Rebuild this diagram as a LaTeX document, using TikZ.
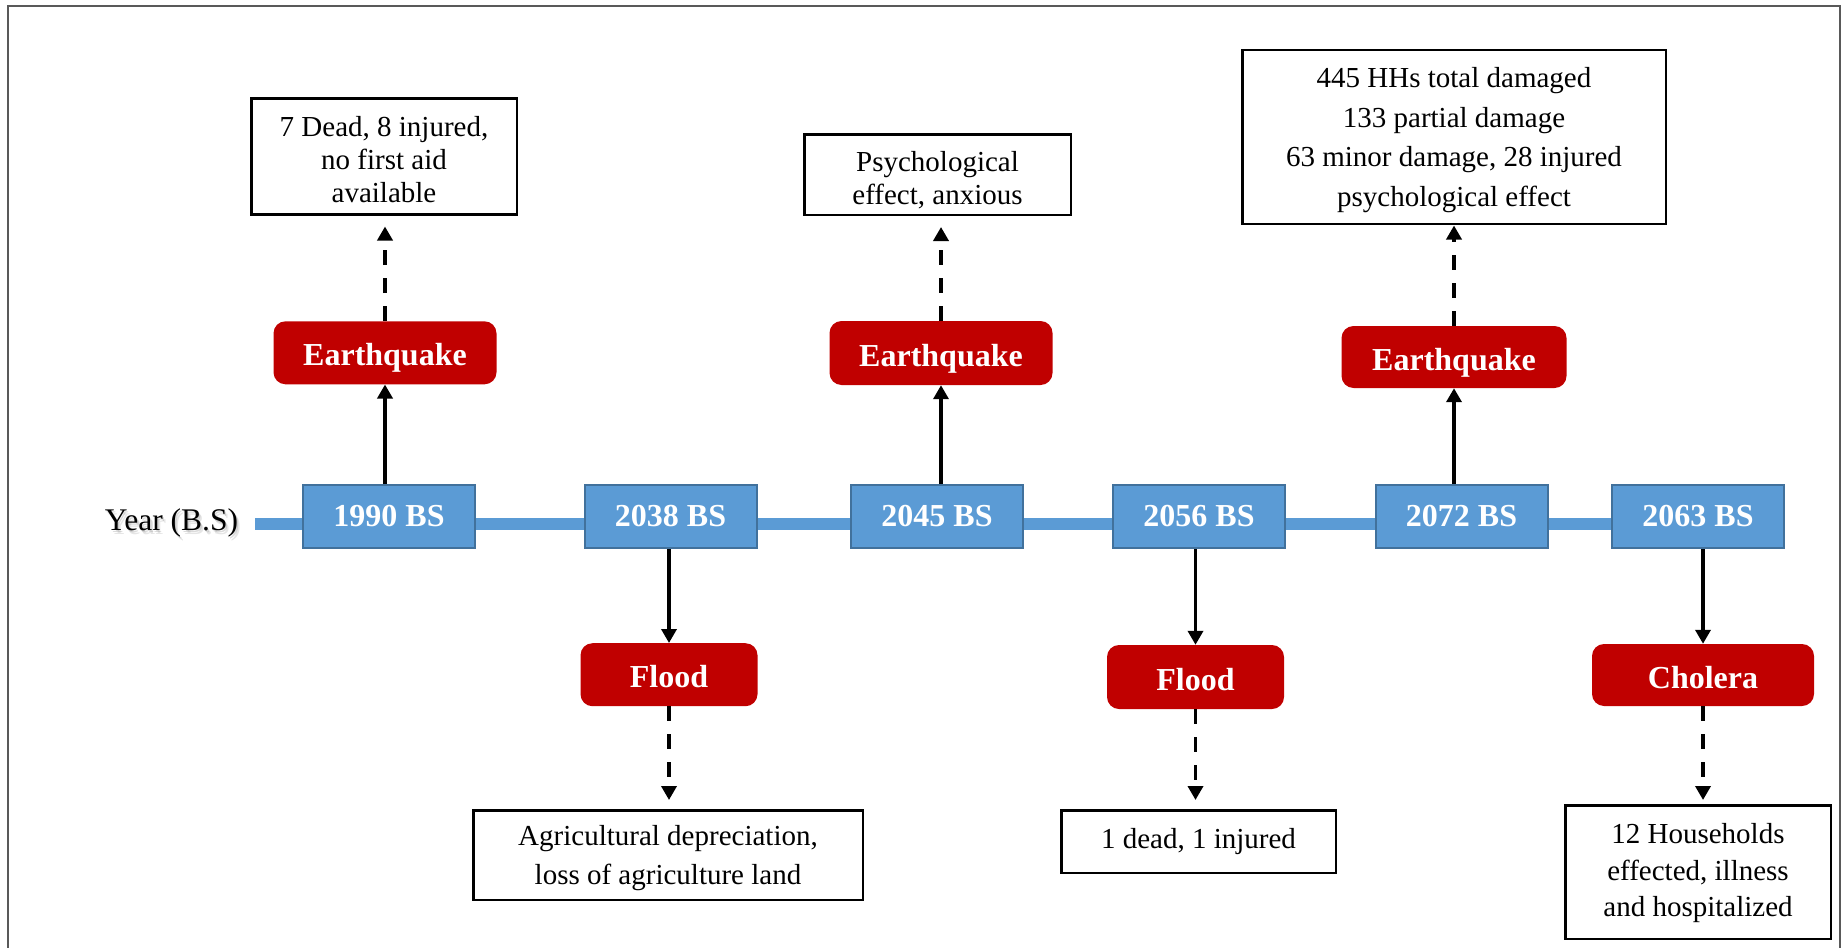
\documentclass[tikz,border=0pt]{standalone}
\usepackage{fontspec}
\setmainfont{Liberation Serif}
\usetikzlibrary{arrows.meta}

\definecolor{yrblue}{HTML}{5B9BD5}
\definecolor{yredge}{HTML}{41719C}
\definecolor{evred}{HTML}{C00000}
\definecolor{framegray}{HTML}{595959}

% invisible strut that sets the height of a first text line
\newcommand{\firstline}[1]{\rule{0pt}{#1}}

\begin{document}
\begin{tikzpicture}[x=1pt,y=-1pt,
  yearbox/.style={draw=yredge, line width=2pt, fill=yrblue, text=white,
    font=\fontsize{32}{36}\selectfont\bfseries,
    minimum width=172pt, minimum height=63pt, inner sep=0pt},
  eventbox/.style={fill=evred, rounded corners=12pt, text=white,
    font=\fontsize{32}{36}\selectfont\bfseries, inner sep=0pt,
    text height=26pt, text depth=0pt},
  effectbox/.style={draw=black, line width=2.5pt, fill=white, align=center,
    inner sep=0pt, font=\fontsize{29}{33}\selectfont},
  link/.style={line width=3.5pt, -{Triangle[width=15pt,length=14pt]}},
  effectlink/.style={link, dash pattern=on 15pt off 13pt},
]
\useasboundingbox (0,0) rectangle (1843,947);

% outer frame (its lower edge lies below the page)
\draw[framegray, line width=2pt] (8,960) -- (8,6) -- (1840,6) -- (1840,960);

% time axis
\coordinate (barstart) at (255,524);
\coordinate (barend) at (1700,524);
\draw[yrblue, line width=12pt] (barstart) -- (barend);

% axis caption with its soft shadow
\node[text=black!40, opacity=0.25, font=\fontsize{31.5}{36}\selectfont] (ylabelshadowb) at (174.5,526.5) {Year (B.S)};
\node[text=black!40, opacity=0.35, font=\fontsize{31.5}{36}\selectfont] (ylabelshadowa) at (173,525) {Year (B.S)};
\node[font=\fontsize{31.5}{36}\selectfont] (ylabel) at (171.5,523) {Year (B.S)};

% years
\node[yearbox] (y1990) at (389,516.5) {1990 BS};
\node[yearbox] (y2038) at (670.5,516.5) {2038 BS};
\node[yearbox] (y2045) at (937,516.5) {2045 BS};
\node[yearbox] (y2056) at (1199,516.5) {2056 BS};
\node[yearbox] (y2072) at (1461.5,516.5) {2072 BS};
\node[yearbox] (y2063) at (1698,516.5) {2063 BS};

% hazard events
\node[eventbox, minimum width=223pt, minimum height=63pt] (e1) at (385,352.8) {Earthquake};
\node[eventbox, minimum width=223pt, minimum height=64pt] (e2) at (941,353) {Earthquake};
\node[eventbox, minimum width=225pt, minimum height=62pt] (e3) at (1454,357) {Earthquake};
\node[eventbox, minimum width=177pt, minimum height=63pt] (f1) at (669,674.7) {Flood};
\node[eventbox, minimum width=177pt, minimum height=64pt] (f2) at (1195.5,677) {Flood};
\node[eventbox, minimum width=222pt, minimum height=62pt] (c1) at (1703,675) {Cholera};

% impacts
\node[effectbox, minimum width=265.5pt, minimum height=115.5pt] (t1) at (384,156.5)
  {\firstline{26pt}7 Dead, 8 injured,\\ no first aid\\ available};
\node[effectbox, minimum width=266.5pt, minimum height=80.5pt] (t2) at (937.5,174.5)
  {\firstline{32pt}Psychological\\ effect, anxious};
\node[effectbox, minimum width=423.5pt, minimum height=173.5pt,
  font=\fontsize{29}{39.5}\selectfont] (t3) at (1454,137)
  {\firstline{26pt}445 HHs total damaged\\ 133 partial damage\\ 63 minor damage, 28 injured\\ psychological effect};
\node[effectbox, minimum width=389.5pt, minimum height=89.5pt,
  font=\fontsize{29}{39}\selectfont] (b1) at (668,855)
  {\firstline{27pt}Agricultural depreciation,\\ loss of agriculture land};
\node[effectbox, minimum width=274.5pt, minimum height=62.5pt] (b2) at (1198.5,841.5)
  {1 dead, 1 injured};
\node[effectbox, minimum width=265.5pt, minimum height=133.5pt,
  font=\fontsize{29}{36.5}\selectfont] (b3) at (1698,872)
  {\firstline{23pt}12 Households\\ effected, illness\\ and hospitalized};

% year -> event
\draw[link] (y1990.north -| e1) -- (e1.south);
\draw[link] (y2045.north -| e2) -- (e2.south);
\draw[link] (y2072.north -| e3) -- (e3.south);
\draw[link] (y2038.south -| f1) -- (f1.north);
\draw[link] (y2056.south -| f2) -- (f2.north);
\draw[link] (y2063.south -| c1) -- (c1.north);

% event -> impact
\draw[effectlink, shorten >=11pt] (e1.north) -- (e1.north |- t1.south);
\draw[effectlink, shorten >=11pt] (e2.north) -- (e2.north |- t2.south);
\draw[effectlink, shorten >=0.5pt] (e3.north) -- (e3.north |- t3.south);
\draw[effectlink, shorten >=9pt] (f1.south) -- (f1.south |- b1.north);
\draw[effectlink, shorten >=9pt] (f2.south) -- (f2.south |- b2.north);
\draw[effectlink, shorten >=4pt] (c1.south) -- (c1.south |- b3.north);
\end{tikzpicture}
\end{document}
